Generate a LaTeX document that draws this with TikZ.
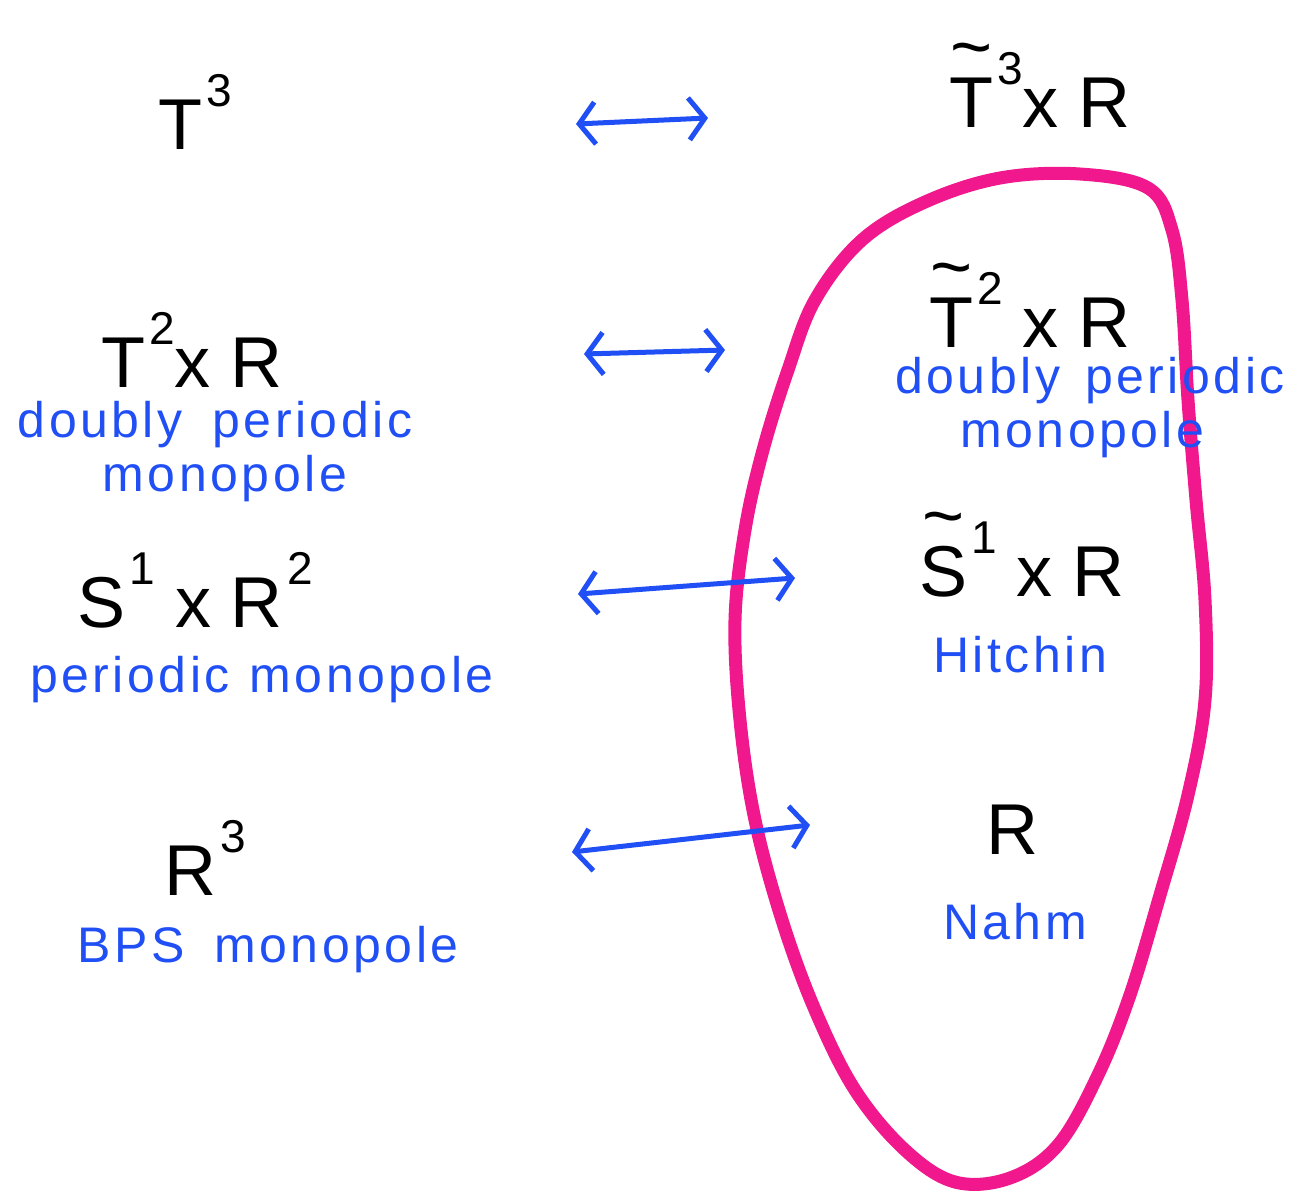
\documentclass[tikz,border=0pt]{standalone}
\usepackage{fontspec}
\setmainfont{Liberation Sans}
\newfontfamily\penfont[LetterSpace=7]{Liberation Sans}
\usetikzlibrary{arrows.meta}
\definecolor{penblue}{HTML}{1F4FF5}
\definecolor{penpink}{HTML}{F0188C}
\tikzset{
  space/.style={font=\fontsize{72}{78}\selectfont, text=black, inner sep=0pt},
  note/.style={font=\penfont\fontsize{50}{54}\selectfont, text=penblue, inner sep=0pt, align=left},
  dual/.style={draw=penblue, line width=5pt, line cap=round, {Straight Barb[length=16pt,width=42pt,line width=5pt]}-{Straight Barb[length=16pt,width=42pt,line width=5pt]}},
}
\newcommand{\tl}[1]{\setbox0\hbox{#1}\rlap{\hbox to \wd0{\hss\raisebox{0.78em}{\textasciitilde}\hss}}#1}
\newcommand{\sps}[1]{\kern0.06em\raisebox{0.6em}{\fontsize{46}{50}\selectfont #1}}
\begin{document}
\begin{tikzpicture}[x=1pt,y=-1pt]
\useasboundingbox[fill=white] (0,0) rectangle (1290,1191);
% closed loop
\draw[penpink, line width=13pt, line cap=round, line join=round]
  plot[smooth cycle, tension=0.6] coordinates {
  (1148,188) (1080,174) (1000,178) (925,202) (862,240) (815,300) (788,370)
  (763,450) (745,530) (735,620) (740,720) (755,820) (782,920) (815,1010)
  (855,1090) (905,1150) (955,1182) (1010,1178) (1058,1145) (1098,1075)
  (1130,995) (1160,895) (1188,795) (1205,700) (1205,600) (1196,500)
  (1188,400) (1182,300) (1172,230)};
% left column
\node[space] (t3) at (195,112) {T\sps{3}};
\node[space] (t2r) at (192,350) {T\sps{2}x R};
\node[note] (n1) at (215,452) {doubly\hspace{0.6em}periodic\\\hspace{1.7em}monopole};
\node[space] (s1r2) at (195,590) {S\sps{1} x R\sps{2}};
\node[note] (n2) at (262,680) {periodic\hspace{0.4em}monopole};
\node[space] (r3) at (205,858) {R\sps{3}};
\node[note] (n3) at (268,950) {BPS\hspace{0.6em}monopole};
% right column
\node[space] (tt3) at (1040,85) {\tl{T}\sps{3}x R};
\node[space] (tt2) at (1030,305) {\tl{T}\sps{2} x R};
\node[note] (n4) at (1090,408) {doubly\hspace{0.5em}periodic\\\hspace{1.3em}monopole};
\node[space] (ts1) at (1022,555) {\tl{S}\sps{1} x R};
\node[note] (n5) at (1020,655) {Hitchin};
\node[space] (r) at (1012,830) {R};
\node[note] (n6) at (1015,922) {Nahm};
% arrows
\coordinate (a1l) at (576,124); \coordinate (a1r) at (708,118);
\coordinate (a2l) at (584,354); \coordinate (a2r) at (725,350);
\coordinate (a3l) at (578,594); \coordinate (a3r) at (795,578);
\coordinate (a4l) at (572,852); \coordinate (a4r) at (810,825);
\draw[dual] (a1l) -- (a1r);
\draw[dual] (a2l) -- (a2r);
\draw[dual] (a3l) -- (a3r);
\draw[dual] (a4l) -- (a4r);
\end{tikzpicture}
\end{document}
